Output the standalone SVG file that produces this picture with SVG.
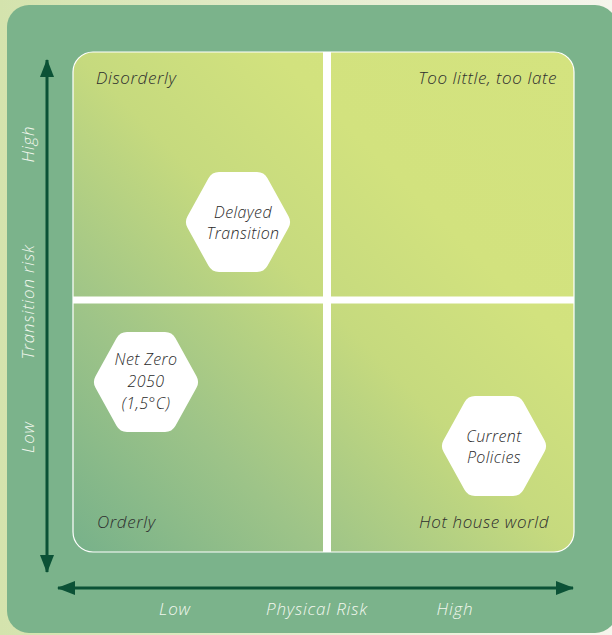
<svg xmlns="http://www.w3.org/2000/svg" width="612" height="635" viewBox="0 0 612 635">
<defs>
<linearGradient id="bg" x1="0" y1="0" x2="1" y2="0">
<stop offset="0" stop-color="#d4e3ad"/>
<stop offset="1" stop-color="#f5f5ec"/>
</linearGradient>
<linearGradient id="quad" gradientUnits="userSpaceOnUse" x1="73" y1="552" x2="574" y2="52">
<stop offset="0" stop-color="#77b18a"/>
<stop offset="0.25" stop-color="#9ec488"/>
<stop offset="0.5" stop-color="#c6da7e"/>
<stop offset="0.7" stop-color="#d2e27e"/>
<stop offset="1" stop-color="#d4e37f"/>
</linearGradient>
<marker id="ah" viewBox="0 0 18 14" refX="17" refY="7" markerWidth="18" markerHeight="14" markerUnits="userSpaceOnUse" orient="auto-start-reverse">
<path d="M0,0 L18,7 L0,14 Z" fill="#0b5236"/>
</marker>
<polygon id="hex" points="-40,0 -19,-38 19,-38 40,0 19,38 -19,38"/>
</defs>
<style>
.hex{fill:#ffffff;stroke:#ffffff;stroke-width:24;stroke-linejoin:round}
.lbl{font-family:"Open Sans","Liberation Sans",sans-serif;font-style:italic;font-weight:300;font-size:17px;letter-spacing:0.6px;fill:#2e2e2e}
.hx{font-family:"Open Sans","Liberation Sans",sans-serif;font-style:italic;font-weight:300;font-size:16px;letter-spacing:0.4px;fill:#2a2a2a;text-anchor:middle}
.ax{font-family:"Open Sans","Liberation Sans",sans-serif;font-style:italic;font-weight:300;font-size:17px;letter-spacing:0.8px;fill:#f2f7ee;text-anchor:middle}
.arrow{stroke:#0b5236;stroke-width:3;fill:none}
</style>
<rect x="0" y="0" width="612" height="635" fill="url(#bg)"/>
<rect x="7" y="5" width="610" height="628" rx="22" fill="#7bb38b"/>
<g id="matrix">
<rect x="73" y="52" width="501" height="500" rx="20" fill="url(#quad)" stroke="#ffffff" stroke-width="1.2"/>
<rect x="323" y="52" width="8" height="500" fill="#ffffff"/>
<rect x="73" y="296.5" width="501" height="7" fill="#ffffff"/>
</g>
<g id="connectors">
<line class="arrow" x1="47" y1="60" x2="47" y2="572" marker-start="url(#ah)" marker-end="url(#ah)"/>
<line class="arrow" x1="58" y1="588" x2="573" y2="588" marker-start="url(#ah)" marker-end="url(#ah)"/>
</g>
<g id="quadrant-labels">
<text class="lbl" x="96" y="84">Disorderly</text>
<text class="lbl" x="557" y="84" text-anchor="end">Too little, too late</text>
<text class="lbl" x="97" y="528">Orderly</text>
<text class="lbl" x="549" y="528" text-anchor="end">Hot house world</text>
</g>
<g id="node-delayed" transform="translate(238,222)">
<use href="#hex" class="hex"/>
<text class="hx" x="5" y="-4">Delayed</text>
<text class="hx" x="5" y="17">Transition</text>
</g>
<g id="node-netzero" transform="translate(146,382)">
<use href="#hex" class="hex"/>
<text class="hx" x="0" y="-17">Net Zero</text>
<text class="hx" x="0" y="5">2050</text>
<text class="hx" x="0" y="27">(1,5°C)</text>
</g>
<g id="node-current" transform="translate(494,446)">
<use href="#hex" class="hex"/>
<text class="hx" x="0" y="-4">Current</text>
<text class="hx" x="0" y="17">Policies</text>
</g>
<g id="axis-labels">
<text class="ax" x="175" y="615">Low</text>
<text class="ax" x="317" y="615">Physical Risk</text>
<text class="ax" x="455" y="615">High</text>
<text class="ax" transform="translate(34,144) rotate(-90)">High</text>
<text class="ax" transform="translate(34,302) rotate(-90)">Transition risk</text>
<text class="ax" transform="translate(34,437) rotate(-90)">Low</text>
</g>
</svg>
